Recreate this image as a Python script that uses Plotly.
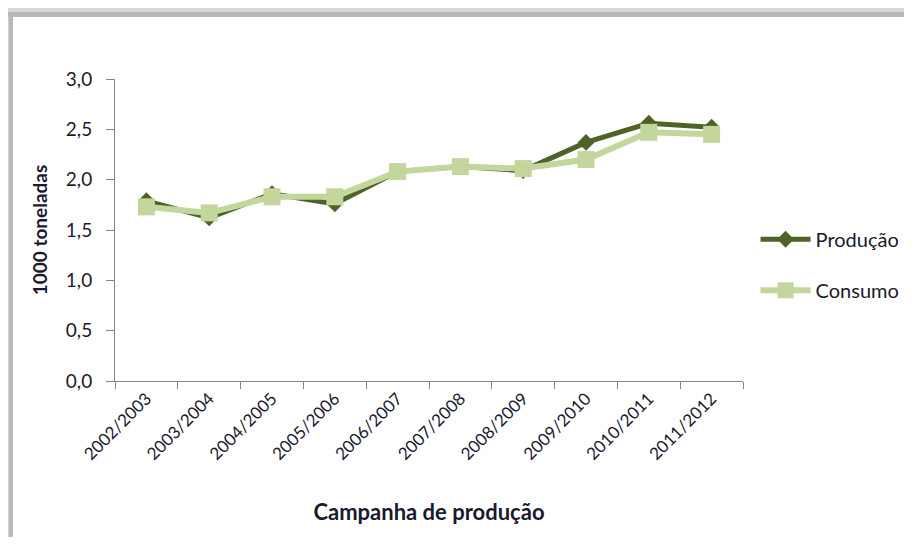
import plotly.graph_objects as go

campanhas = ["2002/2003", "2003/2004", "2004/2005", "2005/2006", "2006/2007",
             "2007/2008", "2008/2009", "2009/2010", "2010/2011", "2011/2012"]
producao = [1.79, 1.62, 1.86, 1.76, 2.08, 2.13, 2.09, 2.37, 2.56, 2.52]
consumo = [1.73, 1.67, 1.83, 1.83, 2.08, 2.13, 2.11, 2.20, 2.47, 2.45]

OFF = 8  # page body margin
W, H = 912 - 2 * OFF, 545 - 2 * OFF
# plot area in screen pixels
SL, SR, ST, SB = 115, 743, 79, 381
L, R, T, B = SL - OFF, SR - OFF, ST - OFF, SB - OFF

def px_x(sx):
    return (sx - SL) / (SR - SL)

def px_y(sy):
    return (SB - sy) / (SB - ST)

FONT = "Lato, 'Open Sans', sans-serif"
TXT = "#1a1a2e"

fig = go.Figure()
fig.add_trace(go.Scatter(
    x=campanhas, y=producao, name="Produção", mode="lines+markers",
    line=dict(color="#4f6228", width=5),
    marker=dict(symbol="diamond", size=13, color="#4f6228"),
    legendgroup="a",
))
fig.add_trace(go.Scatter(
    x=campanhas, y=consumo, name="Consumo", mode="lines+markers",
    line=dict(color="#c3d69b", width=6),
    marker=dict(symbol="square", size=17, color="#c3d69b"),
    legendgroup="b",
))

shapes = []
# shadow frame (top and left), screen pixel coords
bands = [("#d8d8d8", 8, 12), ("#b9b9b9", 12, 17)]
for col, a, b in bands:
    shapes.append(dict(type="rect", xref="paper", yref="paper",
                       x0=px_x(OFF), x1=px_x(912), y0=px_y(a), y1=px_y(b),
                       fillcolor=col, line=dict(width=0), layer="below"))
lbands = [("#d0d0d0", 8, 9), ("#b9b9b9", 9, 13)]
for col, a, b in lbands:
    shapes.append(dict(type="rect", xref="paper", yref="paper",
                       x0=px_x(a), x1=px_x(b), y0=px_y(17), y1=px_y(545),
                       fillcolor=col, line=dict(width=0), layer="below"))

fig.update_layout(
    width=W, height=H,
    margin=dict(l=L, r=W - R, t=T, b=H - B, autoexpand=False),
    paper_bgcolor="white", plot_bgcolor="white",
    separators=",.",
    font=dict(family=FONT, size=17, color=TXT),
    showlegend=True,
    legend=dict(x=1.02, xanchor="left", y=0.385, yanchor="middle",
                font=dict(size=20, color=TXT),
                tracegroupgap=22, itemwidth=50,
                bgcolor="rgba(0,0,0,0)"),
    shapes=shapes,
    xaxis=dict(
        type="category", range=[-0.5, 9.5],
        showline=True, linecolor="#868686", linewidth=1,
        ticks="outside", ticklen=7, tickcolor="#868686", tickson="boundaries",
        tickangle=-45, tickfont=dict(size=17),
        showgrid=False, zeroline=False,
        title=dict(text="<b>Campanha de produção</b>", font=dict(size=22), standoff=41),
    ),
    yaxis=dict(
        range=[0, 3], dtick=0.5, tickformat=".1f",
        showline=True, linecolor="#868686", linewidth=1,
        ticks="outside", ticklen=8, tickcolor="#868686",
        ticklabelstandoff=10,
        tickfont=dict(size=19),
        showgrid=False, zeroline=False,
        title=dict(text="<b>1000 toneladas</b>", font=dict(size=19), standoff=13),
    ),
)

fig.write_html("out.html")
